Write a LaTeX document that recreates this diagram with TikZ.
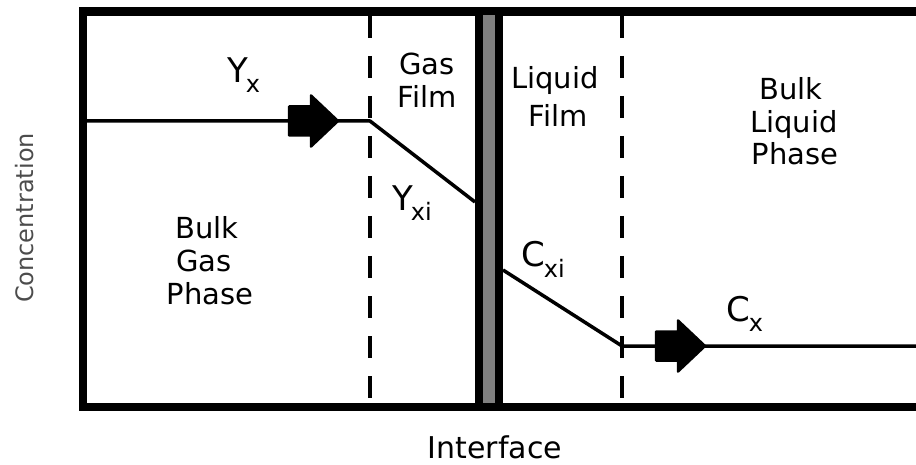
\documentclass[tikz,border=0pt]{standalone}
\usepackage{fontspec}
\setmainfont{DejaVu Sans}
\newcommand{\subtxt}[1]{\raisebox{-10pt}{\fontsize{24}{24}\selectfont #1}}
\begin{document}
\begin{tikzpicture}[x=1pt,y=-1pt,
  frame/.style={line width=8.5pt},
  ifill/.style={fill=gray},
  conc/.style={line width=3.5pt, line join=round},
  filmline/.style={line width=3.8pt, dash pattern=on 22pt off 18pt},
  fatarrow/.style={fill=black, draw=black, line width=2.5pt, line join=round},
  lbl/.style={font=\fontsize{29}{33}\selectfont, inner sep=0pt, anchor=base},
  sym/.style={font=\fontsize{34}{34}\selectfont, inner sep=0pt, anchor=base west}]
\useasboundingbox (0,0) rectangle (916,465);
% outer frame
\coordinate (tl) at (83,11.5);
\coordinate (bl) at (83,407);
\coordinate (tr) at (916,11.5);
\coordinate (br) at (916,407);
\draw[frame] (tr) -- (tl) -- (bl) -- (br);
% interface
\coordinate (i1t) at (479,7.5);
\coordinate (i1b) at (479,411);
\coordinate (i2t) at (499,7.5);
\coordinate (i2b) at (499,411);
\fill[ifill] (482,15) rectangle (496,403);
\draw[frame] (i1t) -- (i1b);
\draw[frame] (i2t) -- (i2b);
% film boundaries
\coordinate (gft) at (370,16);
\coordinate (gfb) at (370,403);
\coordinate (lft) at (622,16);
\coordinate (lfb) at (622,403);
\draw[filmline] (gft) -- (gfb);
\draw[filmline] (lft) -- (lfb);
% concentration profiles
\coordinate (g0) at (87,121);
\coordinate (g1) at (370,121);
\coordinate (g2) at (475,202);
\draw[conc] (g0) -- (g1) -- (g2);
\coordinate (l0) at (503,270);
\coordinate (l1) at (622,346);
\coordinate (l2) at (916,346);
\draw[conc] (l0) -- (l1) -- (l2);
% flux arrows
\coordinate (ga) at (338,121);
\coordinate (la) at (705,346);
\foreach \t in {ga,la}
  \draw[fatarrow, shift={(\t)}] (-49,-14.5) -- (-27,-14.5) -- (-27,-25.5) -- (0,0)
     -- (-27,25.5) -- (-27,14.5) -- (-49,14.5) -- cycle;
% symbols
\node[sym] (yx) at (227,83) {Y\kern-2pt\subtxt{x}};
\node[sym] (yxi) at (392,211) {Y\kern-2pt\subtxt{xi}};
\node[sym] (cxi) at (521,267) {C\kern-1pt\subtxt{xi}};
\node[sym] (cx) at (726,321) {C\kern-1pt\subtxt{x}};
% region labels
\node[lbl] (gf1) at (427,75) {Gas};
\node[lbl] (gf2) at (427,108) {Film};
\node[lbl] (lf1) at (555,89) {Liquid};
\node[lbl] (lf2) at (558,127) {Film};
\node[lbl] (bl1) at (791,100) {Bulk};
\node[lbl] (bl2) at (794,133) {Liquid};
\node[lbl] (bl3) at (795,165) {Phase};
\node[lbl] (bg1) at (207,239) {Bulk};
\node[lbl] (bg2) at (204,272) {Gas};
\node[lbl] (bg3) at (210,304) {Phase};
% axis labels
\node[font=\fontsize{24}{24}\selectfont, text=black!70, inner sep=0pt, rotate=90, anchor=base] (conclbl) at (33,218) {Concentration};
\node[font=\fontsize{30}{30}\selectfont, inner sep=0pt, anchor=base] (iflbl) at (495,458) {Interface};
\end{tikzpicture}
\end{document}
